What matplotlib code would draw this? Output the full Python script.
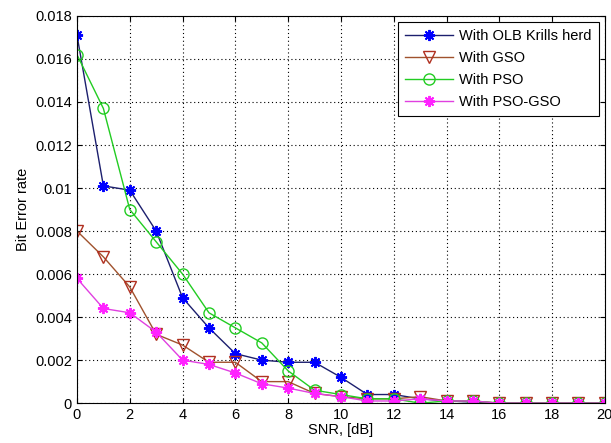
import numpy as np
import matplotlib.pyplot as plt

plt.rcParams['font.family'] = ['Liberation Sans', 'DejaVu Sans']

snr = np.arange(0, 21)
krill   = [0.0171, 0.0101, 0.0099, 0.0080, 0.0049, 0.0035, 0.0023, 0.0020, 0.0019, 0.0019,
           0.0012, 0.0004, 0.0004, 0.0002, 0.0001, 0.00005, 0, 0, 0, 0, 0]
gso     = [0.0080, 0.0068, 0.0054, 0.0032, 0.0027, 0.0019, 0.0019, 0.0010, 0.0010, 0.00045,
           0.0003, 0.0002, 0.0002, 0.0003, 0.0001, 0.0001, 0, 0, 0, 0, 0]
pso     = [0.0162, 0.0137, 0.0090, 0.0075, 0.0060, 0.0042, 0.0035, 0.0028, 0.0015, 0.0006,
           0.0004, 0.0002, 0.0002, 0.0000, 0.0001, 0.0001, 0, 0, 0, 0, 0]
pso_gso = [0.0058, 0.0044, 0.0042, 0.0033, 0.0020, 0.0018, 0.0014, 0.0009, 0.0007, 0.00045,
           0.0003, 0.0001, 0.0001, 0.0002, 0.0001, 0.0001, 0, 0, 0, 0, 0]

star = (8, 2, 0)  # matlab-like asterisk

fig = plt.figure(figsize=(6.11, 4.43), dpi=100)
ax = fig.add_axes([0.126, 0.090, 0.864, 0.874])

ax.plot(snr, krill, color="#1c1f6e", marker=star, markersize=8, mec="blue", mew=1.4,
        linewidth=1.0, label="With OLB Krills herd")
ax.plot(snr, gso, color="#a0522d", marker="v", markersize=8, mfc="none", mec="#b03020",
        linewidth=1.0, label="With GSO")
ax.plot(snr, pso, color="#22cc22", marker="o", markersize=8, mfc="none", mec="#22cc22",
        linewidth=1.0, label="With PSO")
ax.plot(snr, pso_gso, color="#e040e0", marker=star, markersize=8, mec="#ff22ff", mew=1.4,
        linewidth=1.0, label="With PSO-GSO")

ax.set_xlim(0, 20)
ax.set_ylim(0, 0.018)
ax.set_xticks(np.arange(0, 21, 2))
ax.set_yticks(np.arange(0, 0.0181, 0.002))
ax.set_yticklabels(["0", "0.002", "0.004", "0.006", "0.008", "0.01",
                    "0.012", "0.014", "0.016", "0.018"])
ax.tick_params(direction="in", labelsize=10.5, top=True, right=True)
ax.grid(True, color="black", linestyle=(0, (1, 2.5)), linewidth=0.8)

ax.set_xlabel("SNR, [dB]", fontsize=10.5, labelpad=1)
ax.set_ylabel("Bit Error rate", fontsize=10.5)

leg = ax.legend(loc="upper right", fontsize=10.5, fancybox=False, framealpha=1,
                edgecolor="black", borderaxespad=0.4, handlelength=3.3,
                labelspacing=0.55, borderpad=0.5, handletextpad=0.4)
leg.get_frame().set_linewidth(0.8)

plt.savefig("out.png", dpi=100)
